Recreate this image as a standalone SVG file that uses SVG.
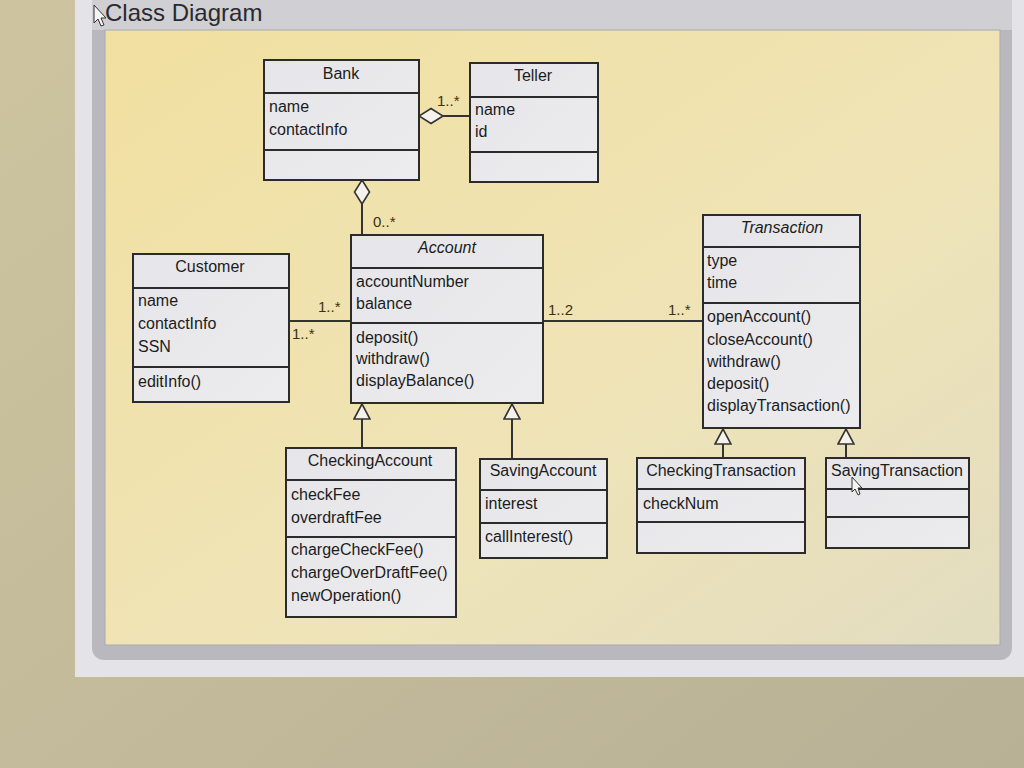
<svg xmlns="http://www.w3.org/2000/svg" width="1024" height="768" viewBox="0 0 1024 768">
<defs>
<linearGradient id="wall" x1="0" y1="0" x2="1" y2="1">
<stop offset="0" stop-color="#cdc49f"/><stop offset="1" stop-color="#b9b196"/>
</linearGradient>
<linearGradient id="canvas" x1="0" y1="0" x2="1" y2="1">
<stop offset="0" stop-color="#f1e0a0"/><stop offset="0.6" stop-color="#efe4b8"/><stop offset="1" stop-color="#e2dcc0"/>
</linearGradient>
<linearGradient id="box" x1="0" y1="0" x2="1" y2="1">
<stop offset="0" stop-color="#e6e6ea"/><stop offset="1" stop-color="#ececee"/>
</linearGradient>
<marker id="diamond" viewBox="0 0 26 18" refX="25" refY="9" markerWidth="26" markerHeight="18" markerUnits="userSpaceOnUse" orient="auto">
<path d="M1,9 L13,1.5 L25,9 L13,16.5 Z" fill="#f4f2ea" stroke="#333" stroke-width="1.6"/>
</marker>
<marker id="tri" viewBox="0 0 18 18" refX="16" refY="9" markerWidth="18" markerHeight="18" markerUnits="userSpaceOnUse" orient="auto">
<path d="M1,1 L16,9 L1,17 Z" fill="#f4f2ea" stroke="#333" stroke-width="1.6"/>
</marker>
</defs>
<style>
.box{fill:url(#box);stroke:#2b2b2b;stroke-width:2}
.sep{stroke:#2b2b2b;stroke-width:2}
.t{font-family:"Liberation Sans",Arial,sans-serif;font-size:16px;fill:#1c1c1c}
.h{text-anchor:middle}
.i{font-style:italic}
.m{font-family:"Liberation Sans",Arial,sans-serif;font-size:15px;fill:#3b3212}
.ln{stroke:#333;stroke-width:2;fill:none}
</style>
<!-- background scene -->
<rect x="0" y="0" width="1024" height="768" fill="url(#wall)"/>
<rect x="75" y="0" width="949" height="677" fill="#e3e3e8"/>
<rect x="92" y="-10" width="920" height="670" rx="12" fill="#b8b8be"/>
<rect x="92" y="-10" width="920" height="40" fill="#cfcfd4"/>
<rect x="105" y="30" width="895" height="615" fill="url(#canvas)" stroke="#a9a9ae" stroke-width="1"/>
<text x="105" y="21" font-family="Liberation Sans,Arial,sans-serif" font-size="24" fill="#2a2a2e">Class Diagram</text>
<path d="M94,5 L94,23 L98,19 L101,26 L104,25 L101,18 L106,18 Z" fill="#f4f4f4" stroke="#333" stroke-width="1"/>

<!-- connectors -->
<g id="connectors">
<path class="ln" d="M470,116 L419,116" marker-end="url(#diamond)"/>
<path class="ln" d="M362,235 L362,180" marker-end="url(#diamond)"/>
<path class="ln" d="M289,321 L351,321"/>
<path class="ln" d="M543,321 L703,321"/>
<path class="ln" d="M362,448 L362,404" marker-end="url(#tri)"/>
<path class="ln" d="M512,459 L512,404" marker-end="url(#tri)"/>
<path class="ln" d="M723,458 L723,429" marker-end="url(#tri)"/>
<path class="ln" d="M846,458 L846,429" marker-end="url(#tri)"/>
<text class="m" x="437" y="106">1..*</text>
<text class="m" x="373" y="227">0..*</text>
<text class="m" x="318" y="312">1..*</text>
<text class="m" x="292" y="339">1..*</text>
<text class="m" x="548" y="315">1..2</text>
<text class="m" x="668" y="315">1..*</text>
</g>

<g id="Bank">
<rect class="box" x="264" y="60" width="155" height="120"/>
<line class="sep" x1="264" y1="93" x2="419" y2="93"/>
<line class="sep" x1="264" y1="150" x2="419" y2="150"/>
<text class="t h" x="341" y="79">Bank</text>
<text class="t" x="269" y="112">name</text>
<text class="t" x="269" y="135">contactInfo</text>
</g>

<g id="Teller">
<rect class="box" x="470" y="63" width="128" height="119"/>
<line class="sep" x1="470" y1="97" x2="598" y2="97"/>
<line class="sep" x1="470" y1="152" x2="598" y2="152"/>
<text class="t h" x="533" y="81">Teller</text>
<text class="t" x="475" y="115">name</text>
<text class="t" x="475" y="137">id</text>
</g>

<g id="Account">
<rect class="box" x="351" y="235" width="192" height="168"/>
<line class="sep" x1="351" y1="268" x2="543" y2="268"/>
<line class="sep" x1="351" y1="323" x2="543" y2="323"/>
<text class="t h i" x="447" y="253">Account</text>
<text class="t" x="356" y="287">accountNumber</text>
<text class="t" x="356" y="309">balance</text>
<text class="t" x="356" y="343">deposit()</text>
<text class="t" x="356" y="364">withdraw()</text>
<text class="t" x="356" y="386">displayBalance()</text>
</g>

<g id="Customer">
<rect class="box" x="133" y="254" width="156" height="148"/>
<line class="sep" x1="133" y1="288" x2="289" y2="288"/>
<line class="sep" x1="133" y1="367" x2="289" y2="367"/>
<text class="t h" x="210" y="272">Customer</text>
<text class="t" x="138" y="306">name</text>
<text class="t" x="138" y="329">contactInfo</text>
<text class="t" x="138" y="352">SSN</text>
<text class="t" x="138" y="387">editInfo()</text>
</g>

<g id="Transaction">
<rect class="box" x="703" y="215" width="157" height="213"/>
<line class="sep" x1="703" y1="247" x2="860" y2="247"/>
<line class="sep" x1="703" y1="303" x2="860" y2="303"/>
<text class="t h i" x="782" y="233">Transaction</text>
<text class="t" x="707" y="266">type</text>
<text class="t" x="707" y="288">time</text>
<text class="t" x="707" y="322">openAccount()</text>
<text class="t" x="707" y="345">closeAccount()</text>
<text class="t" x="707" y="367">withdraw()</text>
<text class="t" x="707" y="389">deposit()</text>
<text class="t" x="707" y="411">displayTransaction()</text>
</g>

<g id="CheckingAccount">
<rect class="box" x="286" y="448" width="170" height="169"/>
<line class="sep" x1="286" y1="480" x2="456" y2="480"/>
<line class="sep" x1="286" y1="537" x2="456" y2="537"/>
<text class="t h" x="370" y="466">CheckingAccount</text>
<text class="t" x="291" y="500">checkFee</text>
<text class="t" x="291" y="523">overdraftFee</text>
<text class="t" x="291" y="555">chargeCheckFee()</text>
<text class="t" x="291" y="578">chargeOverDraftFee()</text>
<text class="t" x="291" y="601">newOperation()</text>
</g>

<g id="SavingAccount">
<rect class="box" x="480" y="459" width="127" height="99"/>
<line class="sep" x1="480" y1="490" x2="607" y2="490"/>
<line class="sep" x1="480" y1="523" x2="607" y2="523"/>
<text class="t h" x="543" y="476">SavingAccount</text>
<text class="t" x="485" y="509">interest</text>
<text class="t" x="485" y="542">callInterest()</text>
</g>

<g id="CheckingTransaction">
<rect class="box" x="637" y="458" width="168" height="95"/>
<line class="sep" x1="637" y1="489" x2="805" y2="489"/>
<line class="sep" x1="637" y1="522" x2="805" y2="522"/>
<text class="t h" x="721" y="476">CheckingTransaction</text>
<text class="t" x="643" y="509">checkNum</text>
</g>

<g id="SavingTransaction">
<rect class="box" x="826" y="458" width="143" height="90"/>
<line class="sep" x1="826" y1="489" x2="969" y2="489"/>
<line class="sep" x1="826" y1="517" x2="969" y2="517"/>
<text class="t h" x="897" y="476">SavingTransaction</text>
</g>
<path d="M852,477 L852,492 L855,489 L858,495 L860,494 L858,488 L862,488 Z" fill="#f4f4f4" stroke="#333" stroke-width="1"/>
</svg>
